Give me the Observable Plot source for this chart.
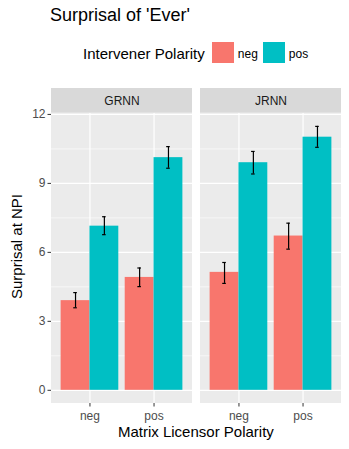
<!DOCTYPE html>
<html><head><meta charset="utf-8">
<script src="https://cdn.jsdelivr.net/npm/d3@7"></script>
<script src="https://cdn.jsdelivr.net/npm/@observablehq/plot@0.6"></script>
<style>
body{margin:0;background:#fff;font-family:"Liberation Sans",Arial,sans-serif;}
#wrap{position:relative;width:349px;height:449px;overflow:hidden;background:#fff;}
.abs{position:absolute;white-space:nowrap;}
</style></head><body><div id="wrap"></div>
<script>
// ---- data ----
const models = ["GRNN", "JRNN"];
const matrixLevels = ["neg", "pos"];
const polarityLevels = ["neg", "pos"];
const polarityColors = ["#F8766D", "#00BFC4"];
// order: (matrix neg, pol neg), (matrix neg, pol pos), (matrix pos, pol neg), (matrix pos, pol pos)
const grnnMean = [3.90, 7.14, 4.91, 10.12];
const grnnLo   = [3.59, 6.77, 4.51, 9.66];
const grnnHi   = [4.25, 7.55, 5.32, 10.60];
const jrnnMean = [5.13, 9.90, 6.71, 11.01];
const jrnnLo   = [4.65, 9.41, 6.14, 10.57];
const jrnnHi   = [5.56, 10.39, 7.27, 11.48];
const yMajorTicks = [0, 3, 6, 9, 12];
const yMinorTicks = [1.5, 4.5, 7.5, 10.5];
const title = "Surprisal of 'Ever'";
const legendTitle = "Intervener Polarity";
const yTitle = "Surprisal at NPI";
const xTitle = "Matrix Licensor Polarity";

// ---- build table ----
const rows = [];
models.forEach((m, mi) => {
  const mean = mi ? jrnnMean : grnnMean, lo = mi ? jrnnLo : grnnLo, hi = mi ? jrnnHi : grnnHi;
  matrixLevels.forEach((mx, xi) => polarityLevels.forEach((p, pi) => {
    const k = xi * 2 + pi;
    rows.push({model: m, xi: xi + 1, pi, pol: p, value: mean[k], lo: lo[k], hi: hi[k]});
  }));
});
const half = 0.45, cap = 0.028;
const center = d => d.xi + (d.pi === 0 ? -half / 2 : half / 2);
const allHi = rows.map(d => d.hi);
const yMax = d3.max(allHi);
const yLo = -0.05 * yMax;
const panelTop = yMax + 0.05 * yMax;
const stripUnits = 1.074;
const stripTop = panelTop + stripUnits;
const xLo = 0.4, xHi = matrixLevels.length + 0.6;

const wrap = document.getElementById("wrap");
function addText(txt, css) {
  const d = document.createElement("div");
  d.className = "abs"; d.textContent = txt; d.style.cssText += css; wrap.appendChild(d); return d;
}
// title
addText(title, "left:50px;top:5.8px;font-size:18px;line-height:18px;color:#000;");
// legend
addText(legendTitle, "left:83px;top:46.3px;font-size:15px;line-height:15px;color:#000;");
const keyX = [212.3, 263.3];
polarityLevels.forEach((p, i) => {
  const k = document.createElement("div");
  k.className = "abs";
  k.style.cssText = `left:${keyX[i]}px;top:41.7px;width:22px;height:21.6px;background:${polarityColors[i]};`;
  wrap.appendChild(k);
  addText(p, `left:${keyX[i] + 25.5}px;top:48.1px;font-size:12px;line-height:12px;color:#000;`);
});
// axis titles
const yt = addText(yTitle, "left:-44.2px;top:238.5px;width:120px;height:15px;text-align:center;font-size:15px;line-height:15px;color:#000;transform:rotate(-90deg);transform-origin:50% 50%;");
addText(xTitle, "left:95.9px;width:200px;text-align:center;top:424.3px;font-size:15px;line-height:15px;color:#000;");

const chart = Plot.plot({
  width: 349,
  height: 363,
  marginTop: 2,
  marginBottom: 46,
  marginLeft: 50,
  marginRight: 7,
  style: {fontFamily: "Liberation Sans, Arial, sans-serif", fontSize: "12px", color: "#4D4D4D", background: "transparent"},
  fx: {domain: models, padding: 0.052, axis: null},
  x: {domain: [xLo, xHi]},
  y: {domain: [yLo, stripTop]},
  color: {domain: polarityLevels, range: polarityColors},
  marks: [
    Plot.rect(models, {fx: d => d, x1: () => xLo, x2: () => xHi, y1: () => yLo, y2: () => panelTop, fill: "#EBEBEB"}),
    Plot.ruleY(yMinorTicks, {y: d => d, stroke: "white", strokeWidth: 0.6}),
    Plot.ruleY(yMajorTicks, {y: d => d, stroke: "white", strokeWidth: 1.2}),
    Plot.ruleX(matrixLevels.map((_, i) => i + 1), {x: d => d, y1: () => yLo, y2: () => panelTop, stroke: "white", strokeWidth: 1.2}),
    Plot.rect(models, {fx: d => d, x1: () => xLo, x2: () => xHi, y1: () => panelTop, y2: () => stripTop, fill: "#D9D9D9"}),
    Plot.text(models, {fx: d => d, x: () => (xLo + xHi) / 2, y: () => (panelTop + stripTop) / 2, text: d => d, fill: "#1A1A1A", fontSize: 12}),
    Plot.rect(rows, {fx: "model", x1: d => d.pi === 0 ? d.xi - half : d.xi, x2: d => d.pi === 0 ? d.xi : d.xi + half, y1: () => 0, y2: "value", fill: "pol"}),
    Plot.ruleX(rows, {fx: "model", x: center, y1: "lo", y2: "hi", stroke: "black", strokeWidth: 1.2}),
    Plot.ruleY(rows, {fx: "model", y: "lo", x1: d => center(d) - cap, x2: d => center(d) + cap, stroke: "black", strokeWidth: 1.2}),
    Plot.ruleY(rows, {fx: "model", y: "hi", x1: d => center(d) - cap, x2: d => center(d) + cap, stroke: "black", strokeWidth: 1.2}),
    Plot.axisX({ticks: matrixLevels.map((_, i) => i + 1), tickFormat: d => matrixLevels[d - 1], tickSize: 3.5, tickPadding: 4, label: null, stroke: "#333333", fill: "#4D4D4D"}),
    Plot.axisY({ticks: yMajorTicks, tickSize: 3.5, tickPadding: 2.5, label: null, stroke: "#333333", fill: "#4D4D4D"})
  ]
});
chart.style.position = "absolute";
chart.style.left = "0px";
chart.style.top = "86px";
wrap.appendChild(chart);
</script></body></html>
